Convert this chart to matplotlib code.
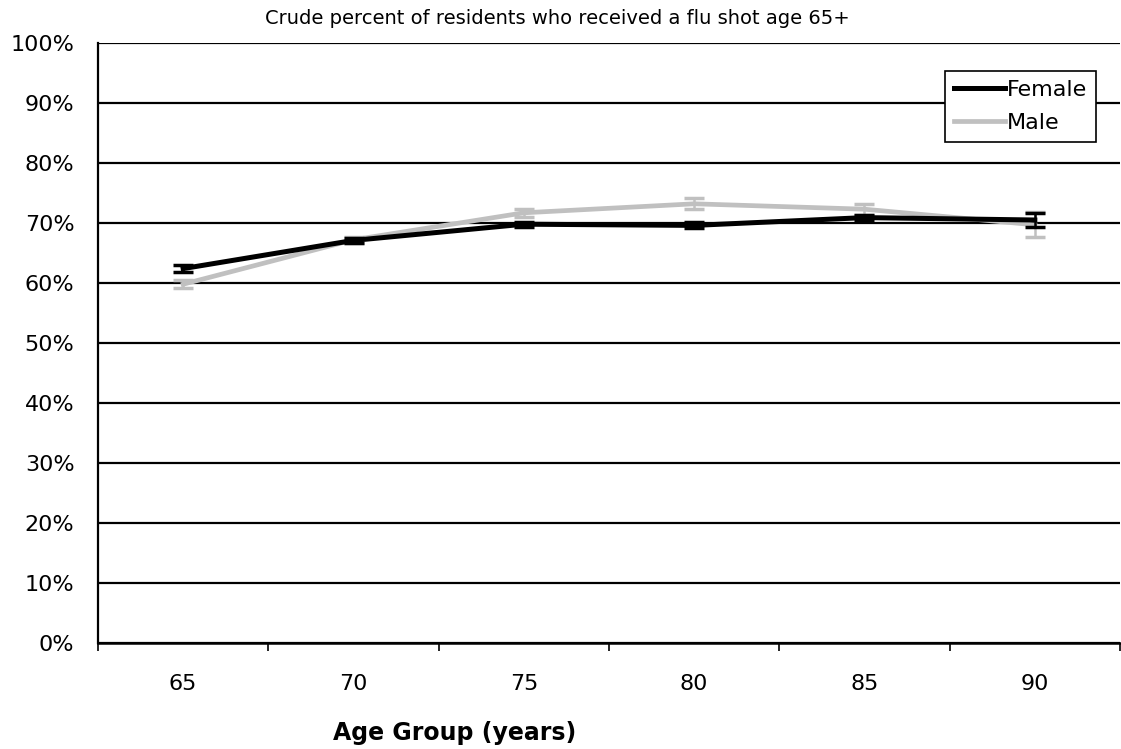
import matplotlib
matplotlib.use("Agg")
import matplotlib.pyplot as plt
import numpy as np
from matplotlib.lines import Line2D

plt.rcParams['font.family'] = ['DejaVu Sans']

age_groups = ["65", "70", "75", "80", "85", "90"]
female = [62.4, 67.1, 69.8, 69.6, 70.9, 70.5]
female_err = [0.6, 0.4, 0.4, 0.5, 0.5, 1.2]
male = [59.8, 67.2, 71.7, 73.2, 72.3, 69.7]
male_err = [0.7, 0.5, 0.7, 0.9, 0.9, 2.1]

W, H = 1121, 749
fig = plt.figure(figsize=(W/100, H/100), dpi=100)
ax = fig.add_axes([98/W, 1 - 643/H, (1120 - 98)/W, (643 - 43)/H])

x = np.arange(len(age_groups))
ax.errorbar(x, female, yerr=female_err, color='black', lw=3.6, elinewidth=1.8,
            capsize=7, capthick=2.5, zorder=4)
ax.errorbar(x, male, yerr=male_err, color='#c0c0c0', lw=3.4, elinewidth=1.8,
            capsize=7, capthick=2.5, zorder=3)

ax.set_xlim(-0.5, len(age_groups) - 0.5)
ax.set_ylim(0, 100)
ax.set_yticks(np.arange(0, 101, 10))
ax.set_yticklabels([f"{v}%" for v in range(0, 101, 10)], fontsize=16)
ax.set_xticks(x)
ax.set_xticklabels(age_groups, fontsize=16)
ax.set_xticks(np.arange(-0.5, len(age_groups), 1), minor=True)
ax.tick_params(axis='x', which='major', length=0, pad=22)
ax.tick_params(axis='x', which='minor', length=6, width=1.2, direction='out', color='black')
ax.tick_params(axis='y', length=0, pad=17)

ax.grid(axis='y', color='black', lw=1.6, zorder=1)
ax.set_axisbelow(True)
for s in ['top', 'right']:
    ax.spines[s].set_visible(False)
ax.spines['left'].set_linewidth(1.6)
ax.spines['bottom'].set_linewidth(1.8)

fig.text(557/W, 1 - 18/H, "Crude percent of residents who received a flu shot age 65+",
         fontsize=14, ha='center', va='center')
fig.text(455/W, 1 - 733/H, "Age Group (years)", fontsize=17, fontweight='bold',
         ha='center', va='center')

h = [Line2D([], [], color='black', lw=3.6), Line2D([], [], color='#c0c0c0', lw=3.4)]
leg = ax.legend(h, ['Female', 'Male'], loc='upper right', bbox_to_anchor=(998/1022, 572/600),
                fontsize=16, frameon=True, fancybox=False, edgecolor='black',
                framealpha=1, handlelength=2.3, handletextpad=0.1, borderpad=0.4,
                labelspacing=0.6, borderaxespad=0)
leg.get_frame().set_linewidth(1.2)

fig.savefig("out.png", dpi=100)
